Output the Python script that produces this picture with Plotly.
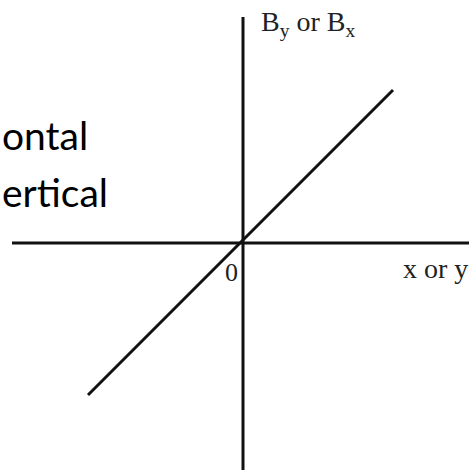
import plotly.graph_objects as go

# Data (chart units: 1 unit ~ 1 px, origin at the crossing of the axes)
line_x = [-155, 150]
line_y = [-152, 153]
h_axis_x = [-231, 226]
v_axis_y = [-227, 226]
origin_label = "0"
x_axis_label = "x or y"
y_axis_label = "B<sub>y</sub> or B<sub>x</sub>"
side_text = ["ontal", "ertical"]

fig = go.Figure()

# horizontal axis
fig.add_trace(go.Scatter(x=h_axis_x, y=[0, 0], mode="lines",
                         line=dict(color="#111111", width=3), hoverinfo="skip"))
# vertical axis
fig.add_trace(go.Scatter(x=[0, 0], y=v_axis_y, mode="lines",
                         line=dict(color="#111111", width=3), hoverinfo="skip"))
# B vs position line
fig.add_trace(go.Scatter(x=line_x, y=line_y, mode="lines",
                         line=dict(color="#111111", width=3), hoverinfo="skip"))

serif = "Liberation Serif, Times New Roman, serif"
sans = "Lato, Carlito, Calibri, sans-serif"

fig.add_annotation(x=-12, y=-29, text=origin_label, showarrow=False,
                   font=dict(family=serif, size=26, color="#222222"),
                   xanchor="center", yanchor="middle")
fig.add_annotation(x=192, y=-25, text=x_axis_label, showarrow=False,
                   font=dict(family=serif, size=28, color="#222222"),
                   xanchor="center", yanchor="middle")
fig.add_annotation(x=16, y=220, text=y_axis_label, showarrow=False,
                   font=dict(family=serif, size=28, color="#222222"),
                   xanchor="left", yanchor="middle")
fig.add_annotation(x=-243, y=108, text=side_text[0], showarrow=False,
                   font=dict(family=sans, size=39, color="#000000"),
                   xanchor="left", yanchor="middle")
fig.add_annotation(x=-243, y=51, text=side_text[1], showarrow=False,
                   font=dict(family=sans, size=39, color="#000000"),
                   xanchor="left", yanchor="middle")

fig.update_layout(
    width=469, height=472,
    margin=dict(l=0, r=0, t=0, b=0),
    paper_bgcolor="white", plot_bgcolor="white",
    showlegend=False,
    xaxis=dict(range=[-243, 226], visible=False, fixedrange=True),
    yaxis=dict(range=[-229, 243], visible=False, fixedrange=True),
)

fig.write_html("out.html", config={"displayModeBar": False},
               post_script="document.body.style.margin='0';document.body.style.overflow='hidden';")
